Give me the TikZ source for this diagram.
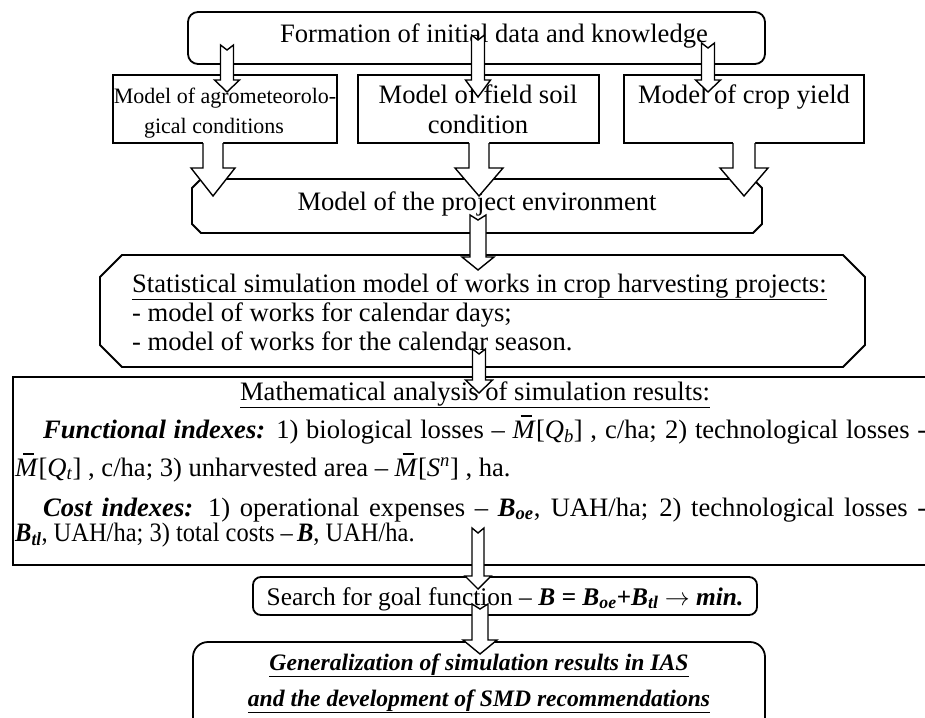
\documentclass[tikz,border=0pt]{standalone}
\usepackage{fontspec}
\setmainfont{Liberation Serif}
\newcommand{\bigsz}{\fontsize{26.6pt}{30pt}\selectfont}
\newcommand{\smallsz}{\fontsize{22pt}{26pt}\selectfont}
\newcommand{\searchsz}{\fontsize{25.4pt}{30pt}\selectfont}
\newcommand{\gensz}{\fontsize{23.6pt}{30pt}\selectfont}
\newcommand{\Mbar}{\makebox[0pt][l]{\hspace{0.3em}\rule[0.8em]{0.42em}{0.05em}}\textit{M}}
\newcommand{\bit}[1]{\textbf{\textit{#1}}}
\tikzset{
  frame/.style={draw=black,line width=1.8pt,fill=white,line join=miter},
  lbl/.style={font=\bigsz,inner sep=0pt,anchor=base},
  arrsty/.style={draw=black,fill=white,line width=1.4pt,line join=miter},
  arrline/.style={draw=black,line width=1.4pt,line join=miter},
}
% notched block arrow: x, ytail, notch, ybase, ytip, shaft half, head half
\newcommand{\notcharrow}[7]{%
  \filldraw[arrsty] (#1-#6,#2) -- (#1,#2+#3) -- (#1+#6,#2) -- (#1+#6,#4) -- (#1+#7,#4) -- (#1,#5) -- (#1-#7,#4) -- (#1-#6,#4) -- cycle;}
% block arrow with open tail: x, ytail, ybase, ytip, shaft half, head half
\newcommand{\openarrow}[6]{%
  \fill[white] (#1-#5,#2-1.2) -- (#1+#5,#2-1.2) -- (#1+#5,#3) -- (#1+#6,#3) -- (#1,#4) -- (#1-#6,#3) -- (#1-#5,#3) -- cycle;
  \draw[arrline] (#1-#5,#2) -- (#1-#5,#3) -- (#1-#6,#3) -- (#1,#4) -- (#1+#6,#3) -- (#1+#5,#3) -- (#1+#5,#2);}
% chamfered box: x1, y1, x2, y2, chamfer
\newcommand{\chambox}[5]{%
  \draw[frame] (#1+#5,#2) -- (#3-#5,#2) -- (#3,#2+#5) -- (#3,#4-#5) -- (#3-#5,#4) -- (#1+#5,#4) -- (#1,#4-#5) -- (#1,#2+#5) -- cycle;}
\begin{document}
\begin{tikzpicture}[x=1pt,y=-1pt]
\useasboundingbox (0,0) rectangle (925,717);
\clip (0,0) rectangle (925,717);
\fill[white] (0,0) rectangle (925,717);

% ---- boxes ----
\draw[frame, rounded corners=10pt] (188,12) rectangle (765,64);
\draw[frame] (113,75) rectangle (337,143);
\draw[frame] (358,75) rectangle (599,143);
\draw[frame] (624,75) rectangle (864,143);
\chambox{192}{179}{762}{233}{9}
\chambox{100}{255}{865}{367}{22}
\draw[frame] (13,377) rectangle (945,565);
\draw[frame, rounded corners=8pt] (253,577) rectangle (757,615);
\draw[frame, rounded corners=15pt] (193,642) rectangle (765,745);

% ---- texts ----
\node[lbl] (t1) at (494,42) {Formation of initial data and knowledge};
\node[lbl,font=\smallsz] (tA1) at (225,103) {Model of agrometeorolo-};
\node[lbl,font=\smallsz] (tA2) at (214,133) {gical conditions};
\node[lbl] (tB1) at (478,103) {Model of field soil};
\node[lbl] (tB2) at (478,133) {condition};
\node[lbl] (tC1) at (744,103) {Model of crop yield};
\node[lbl] (tE) at (477,210) {Model of the project environment};
\node[lbl,anchor=base west] (s1) at (132,292) {\underline{Statistical simulation model of works in crop harvesting projects:}};
\node[lbl,anchor=base west] (s2) at (132,321) {- model of works for calendar days;};
\node[lbl,anchor=base west] (s3) at (132,350) {- model of works for the calendar season.};
\node[lbl] (m1) at (475,400) {\underline{Mathematical analysis of simulation results:}};
\node[lbl,anchor=base west] (m2) at (43,438) {\makebox[883pt][s]{\bit{Functional indexes:} 1) biological losses – \Mbar[\textit{Q}\textsubscript{\textit{b}}] , c/ha; 2) technological losses -}};
\node[lbl,anchor=base west] (m3) at (15,476) {\Mbar[\textit{Q}\textsubscript{\textit{t}}] , c/ha; 3) unharvested area – \Mbar[\textit{S}\textsuperscript{\textit{n}}] , ha.};
\node[lbl,anchor=base west] (m4) at (43,516) {\makebox[883pt][s]{\bit{Cost indexes:} 1) operational expenses – \bit{B}\textsubscript{\bit{oe}}, UAH/ha; 2) technological losses -}};
\node[lbl,anchor=base west] (m5) at (15,541) {\scalebox{0.92}[1]{\bit{B}\textsubscript{\bit{tl}}, UAH/ha; 3) total costs –\,\bit{B}, UAH/ha.}};
\node[lbl,font=\searchsz] (sg) at (505,605) {Search for goal function – \bit{B = B\textsubscript{oe}+B\textsubscript{tl}} $\rightarrow$ \bit{min.}};
\node[lbl,font=\gensz] (g1) at (479,670) {\bit{\underline{Generalization of simulation results in IAS}}};
\node[lbl,font=\gensz] (g2) at (479,706) {\bit{\underline{and the development of SMD recommendations}}};

% ---- block arrows ----
\notcharrow{227}{45}{5}{80}{92}{6.5}{12.5}
\notcharrow{478}{35}{5}{80}{97}{6.5}{12.5}
\notcharrow{708}{43}{5}{80}{92}{6.5}{12.5}
\openarrow{213}{143}{168}{196}{10}{22}
\openarrow{479}{143}{168}{196}{10}{24}
\openarrow{744}{143}{168}{196}{11}{24}
\notcharrow{478}{215}{5}{257}{270}{8}{16}
\notcharrow{479}{349}{5}{380}{393}{6.5}{13.5}
\notcharrow{478}{528}{5}{576}{589}{6}{13}
\notcharrow{480}{604}{5}{640}{654}{8}{17}
\end{tikzpicture}
\end{document}
